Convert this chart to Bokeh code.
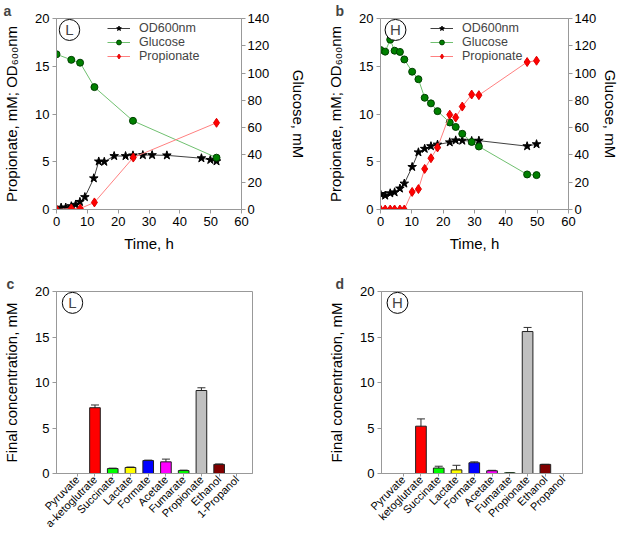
import math
from bokeh.plotting import figure
from bokeh.layouts import column, row
from bokeh.models import (Range1d, LinearAxis, FixedTicker, Legend, LegendItem,
                          Label, ColumnDataSource, Whisker)
from bokeh.embed import file_html
from bokeh.resources import INLINE

# ---------------- data ----------------
# Panel a (L)
a_od_t = [0, 1.5, 3.0, 4.8, 6.2, 7.6, 9.2, 12.1, 13.7, 15.5, 18.7, 22.4, 24.8, 28, 31, 35.8, 47, 49.9, 51.9]
a_od = [0.0, 0.2, 0.2, 0.35, 0.5, 0.8, 1.3, 3.27, 5.03, 5.0, 5.6, 5.6, 5.67, 5.7, 5.7, 5.67, 5.37, 5.2, 5.05]
a_glc_t = [0, 4.8, 7.65, 12.3, 24.8, 51.9]
a_glc = [113.8, 109.7, 107.6, 89.7, 65.0, 38.0]
a_pro_t = [0, 4.8, 7.7, 12.3, 24.9, 51.9]
a_pro = [0.0, 0.1, 0.1, 0.74, 5.44, 9.08]

# Panel b (H)
b_t = [0, 1.5, 3.1, 4.5, 6.2, 7.6, 10.1, 12.1, 14.1, 16.1, 18.2, 22.1, 24, 26.1, 29.1, 31.4, 46.8, 49.8]
b_od = [1.63, 1.46, 1.7, 1.8, 2.2, 2.72, 4.46, 5.99, 6.36, 6.63, 6.8, 7.04, 7.24, 7.21, 7.18, 7.21, 6.63, 6.84]
b_glc = [116.9, 115.7, 124.5, 116.4, 115.5, 110.0, 101.0, 95.5, 81.9, 77.8, 72.1, 63.8, 60.5, 55.5, 49.5, 46.2, 25.7, 25.2]
b_pro = [0, 0, 0, 0, 0, 0, 1.84, 2.14, 4.25, 5.37, 6.5, 9.93, 9.63, 10.78, 12.04, 11.97, 15.44, 15.58]

# Panels c and d (final concentrations)
c_labels = ["Pyruvate", "a-ketoglutrate", "Succinate", "Lactate", "Formate", "Acetate",
            "Fumarate", "Propionate", "Ethanol", "1-Propanol"]
c_vals = [0.0, 7.23, 0.54, 0.66, 1.42, 1.28, 0.32, 9.12, 1.0, 0.0]
c_err = [0.0, 0.3, 0.05, 0.05, 0.05, 0.3, 0.05, 0.3, 0.05, 0.0]

d_labels = ["Pyruvate", "ketoglutrate", "Succinate", "Lactate", "Formate", "Acetate",
            "Fumarate", "Propionate", "Ethanol", "Propanol"]
d_vals = [0.0, 5.2, 0.6, 0.4, 1.18, 0.3, 0.07, 15.6, 1.0, 0.0]
d_err = [0.0, 0.8, 0.2, 0.5, 0.1, 0.05, 0.0, 0.45, 0.0, 0.0]

bar_colors = ["#FF0000", "#FF0000", "#00FF00", "#FFFF00", "#0000FF", "#FF00FF",
              "#00FF00", "#C0C0C0", "#800000", "#FFFFFF"]

legend_names = ["OD600nm", "Glucose", "Propionate"]

FONT = "Liberation Sans"
GRID = "#999999"


def style_axis(ax, tick_size="13px"):
    ax.major_label_text_font = FONT
    ax.major_label_text_font_size = tick_size
    ax.major_label_text_color = "black"
    ax.axis_label_text_font = FONT
    ax.axis_label_text_font_size = "15px"
    ax.axis_label_text_font_style = "normal"
    ax.axis_label_text_color = "black"
    ax.axis_line_color = GRID
    ax.major_tick_line_color = GRID
    ax.major_tick_in = 0
    ax.major_tick_out = 4
    ax.minor_tick_line_color = None
    ax.major_label_standoff = 3


def base_fig(width, height, xr, yr, bl, br, bt, bb, letter_txt, letter_off):
    p = figure(width=width, height=height, x_range=xr, y_range=yr,
               output_backend="svg", toolbar_location=None,
               min_border_left=bl, min_border_right=br,
               min_border_top=bt, min_border_bottom=bb)
    p.xgrid.visible = False
    p.ygrid.visible = False
    p.outline_line_color = GRID
    p.background_fill_color = "white"
    p.border_fill_color = "white"
    p.title.text = letter_txt
    p.title.text_font = FONT
    p.title.text_font_size = "14px"
    p.title.text_font_style = "bold"
    p.title.align = "left"
    p.title.offset = letter_off
    p.title.standoff = 0
    return p


def circ_label(p, txt, x, y, hpad):
    p.add_layout(Label(x=x, y=y, x_units="screen", y_units="data", text=txt,
                       text_font=FONT, text_font_size="15px", text_align="center",
                       text_baseline="middle", border_line_color="black",
                       border_line_width=1, background_fill_color="white",
                       padding=(hpad, 2), border_radius=11))


def time_panel(width, bl, br, od_t, od, glc_t, glc, pro_t, pro, tag, letter_txt,
               letter_off, leg_x, circ_x, hpad, rstand):
    p = base_fig(width, 262, Range1d(0, 60), Range1d(0, 20), bl, br, 13, 53,
                 letter_txt, letter_off)
    p.extra_y_ranges = {"glc": Range1d(0, 140)}
    p.xaxis.ticker = FixedTicker(ticks=[0, 10, 20, 30, 40, 50, 60])
    p.yaxis.ticker = FixedTicker(ticks=[0, 5, 10, 15, 20])
    p.xaxis.axis_label = "Time, h"
    p.yaxis.axis_label = "Propionate, mM; OD\u2086\u2080\u2080nm"
    p.xaxis.axis_label_standoff = 6
    p.yaxis.axis_label_standoff = 12
    style_axis(p.xaxis[0])
    style_axis(p.yaxis[0])
    rax = LinearAxis(y_range_name="glc", axis_label="Glucose, mM",
                     ticker=FixedTicker(ticks=[0, 20, 40, 60, 80, 100, 120, 140]))
    style_axis(rax)
    rax.major_label_standoff = 2
    rax.axis_label_standoff = rstand
    p.add_layout(rax, "right")

    l1 = p.line(od_t, od, line_color="#404040", line_width=1)
    m1 = p.scatter(od_t, od, marker="star", size=9, fill_color="black", line_color="black")
    l2 = p.line(glc_t, glc, y_range_name="glc", line_color="#70C070", line_width=1)
    m2 = p.scatter(glc_t, glc, y_range_name="glc", marker="circle", size=7,
                   fill_color="#008000", line_color="#004000")
    l3 = p.line(pro_t, pro, line_color="#FF8080", line_width=1)
    m3 = p.scatter(pro_t, pro, marker="diamond", size=9, fill_color="#FF0000",
                   line_color="#E00000")

    groups = [[l1, m1], [l2, m2], [l3, m3]]
    for k, (name, rends) in enumerate(zip(legend_names, groups)):
        leg = Legend(items=[LegendItem(label=name, renderers=rends)],
                     location=(leg_x, 174.5 - 14 * k), border_line_color=None,
                     background_fill_alpha=0, padding=0, margin=0, spacing=0,
                     label_text_font=FONT, label_text_font_size="12.5px",
                     label_height=12, glyph_height=12, glyph_width=23,
                     label_standoff=9)
        p.add_layout(leg)
    circ_label(p, tag, circ_x, 18.8, hpad)
    return p


def bar_panel(width, bl, br, xr, labels, vals, errs, tag, letter_txt, letter_off,
              circ_x, hpad):
    p = base_fig(width, 274, xr, Range1d(0, 20), bl, br, 29, 48, letter_txt, letter_off)
    idx = list(range(len(labels)))
    src = ColumnDataSource(dict(x=idx, top=vals, color=bar_colors,
                                upper=[v + e for v, e in zip(vals, errs)],
                                lower=[v - e for v, e in zip(vals, errs)]))
    p.vbar(x="x", top="top", width=0.6, fill_color="color", line_color="#202020",
           line_width=1, source=src)
    w = Whisker(base="x", upper="upper", lower="lower", source=src,
                line_color="#303030", line_width=1)
    w.upper_head.size = 8
    w.lower_head.size = 8
    w.upper_head.line_color = "#303030"
    w.lower_head.line_color = "#303030"
    p.add_layout(w)
    p.xaxis.ticker = FixedTicker(ticks=idx)
    p.xaxis.major_label_overrides = {i: lab for i, lab in zip(idx, labels)}
    p.xaxis.major_label_orientation = math.pi / 4
    p.yaxis.ticker = FixedTicker(ticks=[0, 5, 10, 15, 20])
    p.yaxis.axis_label = "Final concentration, mM"
    p.yaxis.axis_label_standoff = 12
    style_axis(p.xaxis[0], "11px")
    style_axis(p.yaxis[0])
    p.xaxis.major_label_standoff = 1
    p.xaxis.major_tick_out = 3
    circ_label(p, tag, circ_x, 18.75, hpad)
    return p


pa = time_panel(310, 54, 59, a_od_t, a_od, a_glc_t, a_glc, a_pro_t, a_pro, "L", "a",
                -53, 51, 13, 6, 18)
pb = time_panel(312, 70, 47, b_t, b_od, b_t, b_glc, b_t, b_pro, "H", "b",
                -45, 50, 15, 5, 3)
pc = bar_panel(310, 52, 58, Range1d(-1.17, 9.88), c_labels, c_vals, c_err, "L", "c",
               -50, 16, 6)
pd_ = bar_panel(312, 71, 40, Range1d(-1.22, 10.09), d_labels, d_vals, d_err, "H", "d",
                -46, 16, 5)

layout = column(row(pa, pb), row(pc, pd_))
open("out.html", "w").write(file_html(layout, INLINE))
